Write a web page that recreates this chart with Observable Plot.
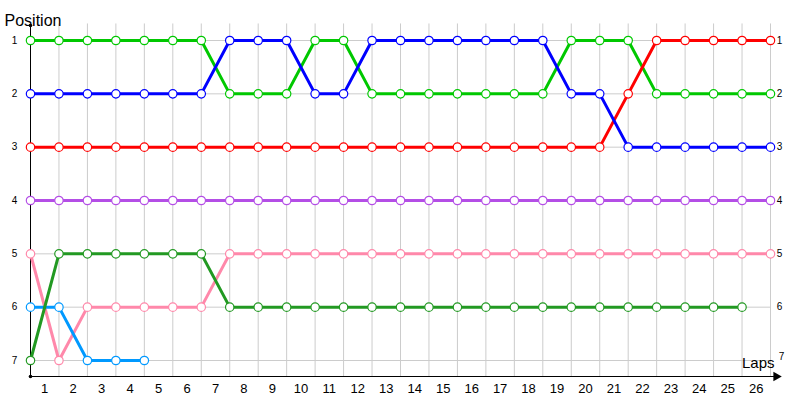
<!DOCTYPE html>
<html><head><meta charset="utf-8">
<script src="https://cdn.jsdelivr.net/npm/d3@7"></script>
<script src="https://cdn.jsdelivr.net/npm/@observablehq/plot@0.6"></script>
<style>body{margin:0;background:#fff;font-family:"Liberation Sans",Arial,sans-serif}</style>
</head><body><div id="chart"></div>
<script>
// Laps 0 (start) .. 26
const lapLabels = [1,2,3,4,5,6,7,8,9,10,11,12,13,14,15,16,17,18,19,20,21,22,23,24,25,26];
const positions = [1,2,3,4,5,6,7];
const drivers = ["Driver A","Driver B","Driver C","Driver D","Driver E","Driver F","Driver G"];
const colors = ["#00c800","#ff0000","#0000ff","#b44ee6","#ff88aa","#0099ff","#229922"];

const posA = [1,1,1,1,1,1,1,2,2,2,1,1,2,2,2,2,2,2,2,1,1,1,2,2,2,2,2];
const posB = [3,3,3,3,3,3,3,3,3,3,3,3,3,3,3,3,3,3,3,3,3,2,1,1,1,1,1];
const posC = [2,2,2,2,2,2,2,1,1,1,2,2,1,1,1,1,1,1,1,2,2,3,3,3,3,3,3];
const posD = [4,4,4,4,4,4,4,4,4,4,4,4,4,4,4,4,4,4,4,4,4,4,4,4,4,4,4];
const posE = [5,7,6,6,6,6,6,5,5,5,5,5,5,5,5,5,5,5,5,5,5,5,5,5,5,5,5];
const posF = [6,6,7,7,7];
const posG = [7,5,5,5,5,5,5,6,6,6,6,6,6,6,6,6,6,6,6,6,6,6,6,6,6,6];

const series = [posA,posB,posC,posD,posE,posF,posG];
const rows = [];
series.forEach((arr, i) => arr.forEach((p, lap) => rows.push({driver: drivers[i], lap, pos: p})));
const laps = d3.range(0, 27);

const yTop = 0.72, yBottom = 7.3;
const chart = Plot.plot({
  width: 800, height: 400,
  marginLeft: 30, marginRight: 30, marginTop: 40, marginBottom: 40,
  style: {fontFamily: "'Liberation Sans', Arial, sans-serif", background: "#fff"},
  x: {domain: [0, 26], axis: null},
  y: {domain: [1, 7], reverse: true, axis: null},
  color: {type: "ordinal", domain: drivers, range: colors},
  marks: [
    Plot.ruleX(laps.slice(1), {x: d => d, y1: yTop - 0.03, y2: yBottom, stroke: "#cccccc", strokeWidth: 1}),
    Plot.ruleY(positions, {y: d => d, x1: 0, x2: 26, stroke: "#cccccc", strokeWidth: 1}),
    Plot.ruleX([0], {y1: yTop, y2: yBottom, stroke: "black", strokeWidth: 1}),
    Plot.ruleY([yBottom], {x1: 0, x2: 26.25, stroke: "black", strokeWidth: 1}),
    Plot.dot([26.2], {x: d => d, y: yBottom, symbol: "triangle", r: 3.6, fill: "black", rotate: 90}),
    Plot.dot([yTop, yBottom], {x: 0, y: d => d, r: 1.8, fill: "black"}),
    Plot.line(rows, {x: "lap", y: "pos", z: "driver", stroke: "driver", strokeWidth: 3, strokeLinejoin: "round"}),
    Plot.dot(rows, {x: "lap", y: "pos", r: 4.2, fill: "white", stroke: "driver", strokeWidth: 1.2}),
    Plot.text(positions, {x: 0, y: d => d, text: d => String(d), dx: -16, fontSize: 10, fill: "black"}),
    Plot.text(positions.slice(0, 6), {x: 26, y: d => d, text: d => String(d), dx: 9, fontSize: 10, fill: "black"}),
    Plot.text(positions.slice(6), {x: 26, y: d => d, text: d => String(d), dx: 11, dy: -4, fontSize: 10, fill: "black"}),
    Plot.text(lapLabels, {x: d => d - 0.5, y: yBottom, text: d => String(d), dy: 12, fontSize: 13, fill: "black"}),
    Plot.text(["Position"], {frameAnchor: "top-left", text: d => d, dx: -26, dy: -26, textAnchor: "start", fontSize: 16, fill: "black"}),
    Plot.text(["Laps"], {x: 26, y: yBottom, text: d => d, dx: 4, dy: -13, textAnchor: "end", fontSize: 15, fill: "black"})
  ]
});
document.getElementById("chart").appendChild(chart);
</script>
</body></html>
